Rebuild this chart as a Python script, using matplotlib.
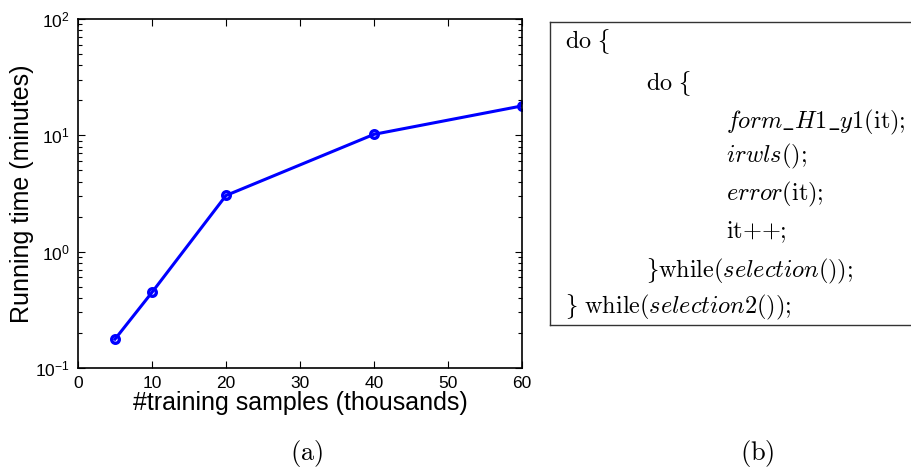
import numpy as np
import matplotlib
matplotlib.use("Agg")
import matplotlib.pyplot as plt
from matplotlib.lines import Line2D
from matplotlib.ticker import LogLocator, NullFormatter

# data
samples = [5, 10, 20, 40, 60]          # thousands
run_time = [0.177, 0.447, 3.04, 10.2, 17.9]   # minutes

xticks = [0, 10, 20, 30, 40, 50, 60]

# text-size braces: \mathcal picks cmsy10, where 'f'/'g' are the braces
LB = r"\mathcal{f}"
RB = r"\mathcal{g}"

# pseudo-code lines: (indent level, mathtext)
code_lines = [
    (0, r"$\mathrm{do}\ " + LB + "$"),
    (1, r"$\mathrm{do}\ " + LB + "$"),
    (2, r"$\mathit{form\_H}\mathrm{1}\mathit{\_y}\mathrm{1}\mathrm{(it);}$"),
    (2, r"$\mathit{irwls}\mathrm{();}$"),
    (2, r"$\mathit{error}\mathrm{(it);}$"),
    (2, r"$\mathrm{it}{+}{+}\mathrm{;}$"),
    (1, "$" + RB + r"\mathrm{while}(\mathit{selection}\mathrm{());}$"),
    (0, "$" + RB + r"\ \mathrm{while}(\mathit{selection}\mathrm{2}\mathrm{());}$"),
]

plt.rcParams["font.family"] = ["Liberation Sans", "DejaVu Sans"]
plt.rcParams["mathtext.fontset"] = "custom"
plt.rcParams["mathtext.rm"] = "Liberation Sans"
plt.rcParams["mathtext.it"] = "Liberation Sans:italic"
plt.rcParams["mathtext.bf"] = "Liberation Sans:bold"

W, H = 911, 468
fig = plt.figure(figsize=(W / 100, H / 100), dpi=100)

# =========================
# (a) running time plot
# =========================
ax = fig.add_axes([78 / W, 1 - 368 / H, (522 - 78) / W, (368 - 19) / H])
ax.plot(samples, run_time, color="#0000ff", lw=2.2, marker="o",
        ms=5.5, mfc="none", mec="#0000ff", mew=2.4)
ax.set_yscale("log")
ax.set_xlim(0, 60)
ax.set_ylim(0.1, 100)
ax.set_xticks(xticks)
ax.yaxis.set_minor_locator(LogLocator(base=10, subs=np.arange(2, 10)))
ax.yaxis.set_minor_formatter(NullFormatter())
ax.tick_params(which="both", direction="in", top=True, right=True,
               labelsize=12.5, width=0.8)
ax.tick_params(which="major", length=5)
ax.tick_params(which="minor", length=3)
ax.tick_params(axis="x", which="major", pad=6)
ax.tick_params(axis="y", which="major", pad=6)
for s in ax.spines.values():
    s.set_linewidth(1.2)
ax.set_xlabel("#training samples (thousands)", fontsize=18, labelpad=0)
ax.set_ylabel("Running time (minutes)", fontsize=18, labelpad=1)

# =========================
# (b) pseudo-code box
# =========================
box_left, box_top, box_bottom = 550, 22, 325
lkw = dict(transform=fig.transFigure, color="#333333", lw=1.0)
fig.add_artist(Line2D([box_left / W, box_left / W],
                      [1 - box_top / H, 1 - box_bottom / H], **lkw))
fig.add_artist(Line2D([box_left / W, 1], [1 - box_top / H] * 2, **lkw))
fig.add_artist(Line2D([box_left / W, 1], [1 - box_bottom / H] * 2, **lkw))

indent_x = [565, 646, 726]
baselines = [48, 90, 128, 162, 200, 238, 277, 313]
for (lvl, txt), yb in zip(code_lines, baselines):
    fig.text(indent_x[lvl] / W, 1 - yb / H, txt, fontsize=17.5,
             math_fontfamily="cm", ha="left", va="baseline")

# captions
fig.text(307 / W, 1 - 460 / H, r"$\mathrm{(a)}$", fontsize=19,
         math_fontfamily="cm", ha="center", va="baseline")
fig.text(757 / W, 1 - 460 / H, r"$\mathrm{(b)}$", fontsize=19,
         math_fontfamily="cm", ha="center", va="baseline")

fig.savefig("out.png", dpi=100)
